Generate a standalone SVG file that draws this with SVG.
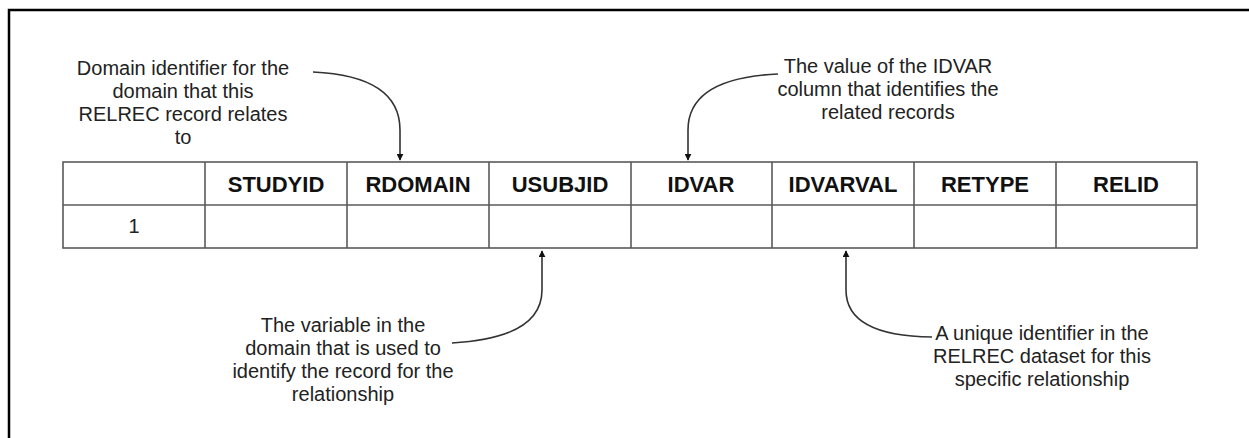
<svg xmlns="http://www.w3.org/2000/svg" width="1249" height="438" viewBox="0 0 1249 438">
<defs>
<style>
.frame{fill:none;stroke:#000;stroke-width:2.5}
.cell{fill:#fff;stroke:#5a5a5a;stroke-width:1.6}
.hdr{font-family:"Liberation Sans",Arial,sans-serif;font-size:22px;font-weight:bold;fill:#111;text-anchor:middle}
.val{font-family:"Liberation Sans",Arial,sans-serif;font-size:20px;fill:#222;text-anchor:middle}
.note{font-family:"Liberation Sans",Arial,sans-serif;font-size:20px;fill:#222;text-anchor:middle}
.conn{fill:none;stroke:#333;stroke-width:1.6}
</style>
<marker id="arr" viewBox="0 0 10 10" refX="9" refY="5" markerWidth="7" markerHeight="7" orient="auto" markerUnits="userSpaceOnUse">
<path d="M0,0 L10,5 L0,10 z" fill="#111"/>
</marker>
</defs>
<rect width="1249" height="438" fill="#fff"/>
<path class="frame" d="M9,438 L9,10 L1249,10"/>
<g id="table">
<rect class="cell" x="63" y="162" width="1134" height="86"/>
<line class="cell" x1="63" y1="205" x2="1197" y2="205"/>
<line class="cell" x1="205" y1="162" x2="205" y2="248"/>
<line class="cell" x1="347" y1="162" x2="347" y2="248"/>
<line class="cell" x1="489" y1="162" x2="489" y2="248"/>
<line class="cell" x1="631" y1="162" x2="631" y2="248"/>
<line class="cell" x1="772" y1="162" x2="772" y2="248"/>
<line class="cell" x1="914" y1="162" x2="914" y2="248"/>
<line class="cell" x1="1056" y1="162" x2="1056" y2="248"/>
<text class="hdr" x="276" y="192">STUDYID</text>
<text class="hdr" x="418" y="192">RDOMAIN</text>
<text class="hdr" x="560" y="192">USUBJID</text>
<text class="hdr" x="701" y="192">IDVAR</text>
<text class="hdr" x="843" y="192">IDVARVAL</text>
<text class="hdr" x="985" y="192">RETYPE</text>
<text class="hdr" x="1126" y="192">RELID</text>
<text class="val" x="134" y="233">1</text>
</g>
<g id="note-rdomain">
<text class="note" x="183" y="75">Domain identifier for the</text>
<text class="note" x="183" y="98">domain that this</text>
<text class="note" x="183" y="121">RELREC record relates</text>
<text class="note" x="183" y="144">to</text>
</g>
<g id="note-idvar">
<text class="note" x="888" y="73">The value of the IDVAR</text>
<text class="note" x="888" y="96">column that identifies the</text>
<text class="note" x="888" y="119">related records</text>
</g>
<g id="note-usubjid">
<text class="note" x="343" y="332">The variable in the</text>
<text class="note" x="343" y="355">domain that is used to</text>
<text class="note" x="343" y="378">identify the record for the</text>
<text class="note" x="343" y="401">relationship</text>
</g>
<g id="note-relid">
<text class="note" x="1042" y="340">A unique identifier in the</text>
<text class="note" x="1042" y="363">RELREC dataset for this</text>
<text class="note" x="1042" y="386">specific relationship</text>
</g>
<g id="connectors">
<path class="conn" marker-end="url(#arr)" d="M313,72 Q400,76 400,130 L400,160"/>
<path class="conn" marker-end="url(#arr)" d="M778,74 Q688,78 688,130 L688,160"/>
<path class="conn" marker-end="url(#arr)" d="M452,343 Q542,338 542,290 L542,251"/>
<path class="conn" marker-end="url(#arr)" d="M932,337 Q846,336 846,290 L846,251"/>
</g>
</svg>
